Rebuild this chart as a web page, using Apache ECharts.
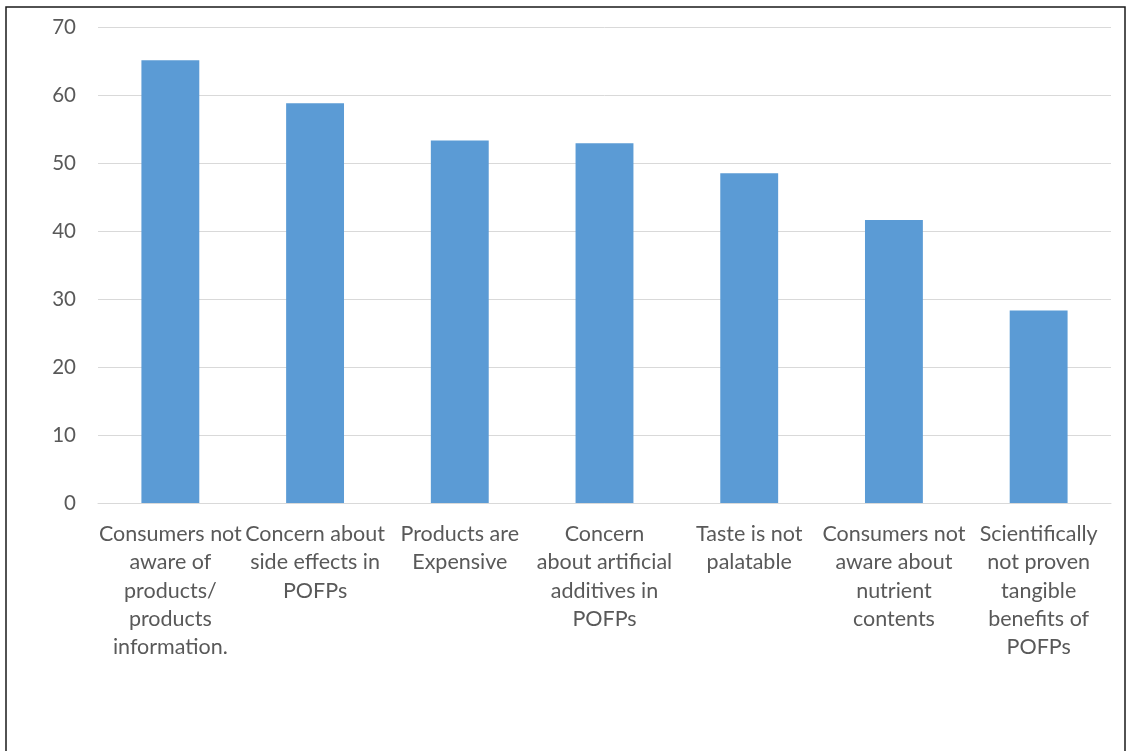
<!DOCTYPE html>
<html>
<head>
<meta charset="utf-8">
<script src="https://cdn.jsdelivr.net/npm/echarts@6/dist/echarts.min.js"></script>
<style>
html,body{margin:0;padding:0;background:#fff;}
#chart{width:1128px;height:751px;}
</style>
</head>
<body>
<div id="chart"></div>
<script>
const categories = [
  "Consumers not\naware of\nproducts/\nproducts\ninformation.",
  "Concern about\nside effects in\nPOFPs",
  "Products are\nExpensive",
  "Concern\nabout artificial\nadditives in\nPOFPs",
  "Taste is not\npalatable",
  "Consumers not\naware about\nnutrient\ncontents",
  "Scientifically\nnot proven\ntangible\nbenefits of\nPOFPs"
];
const values = [65.1, 58.8, 53.3, 52.9, 48.5, 41.6, 28.3];
const yTicks = { min: 0, max: 70, interval: 10 };

const chart = echarts.init(document.getElementById('chart'), null, {renderer: 'canvas'});
chart.setOption({
  animation: false,
  backgroundColor: '#fff',
  graphic: [{
    type: 'rect',
    shape: { x: 6, y: 7, width: 1119, height: 800 },
    style: { fill: 'none', stroke: '#1a1a1a', lineWidth: 1.5 },
    silent: true
  }],
  grid: { left: 98, right: 17, top: 27, bottom: 248, containLabel: false },
  xAxis: {
    type: 'category',
    data: categories,
    axisLine: { show: true, lineStyle: { color: '#d9d9d9', width: 1 } },
    axisTick: { show: false },
    axisLabel: {
      interval: 0,
      color: '#595959',
      fontFamily: 'Lato',
      fontSize: 21.5,
      lineHeight: 28.3,
      margin: 17,
      align: 'center'
    }
  },
  yAxis: {
    type: 'value',
    min: yTicks.min,
    max: yTicks.max,
    interval: yTicks.interval,
    axisLine: { show: false },
    axisTick: { show: false },
    splitLine: { lineStyle: { color: '#d9d9d9', width: 1 } },
    axisLabel: {
      color: '#595959',
      fontFamily: 'Lato',
      fontSize: 20.5,
      margin: 22
    }
  },
  series: [{
    type: 'bar',
    data: values,
    barWidth: '40%',
    itemStyle: { color: '#5b9bd5' }
  }]
});
</script>
</body>
</html>
